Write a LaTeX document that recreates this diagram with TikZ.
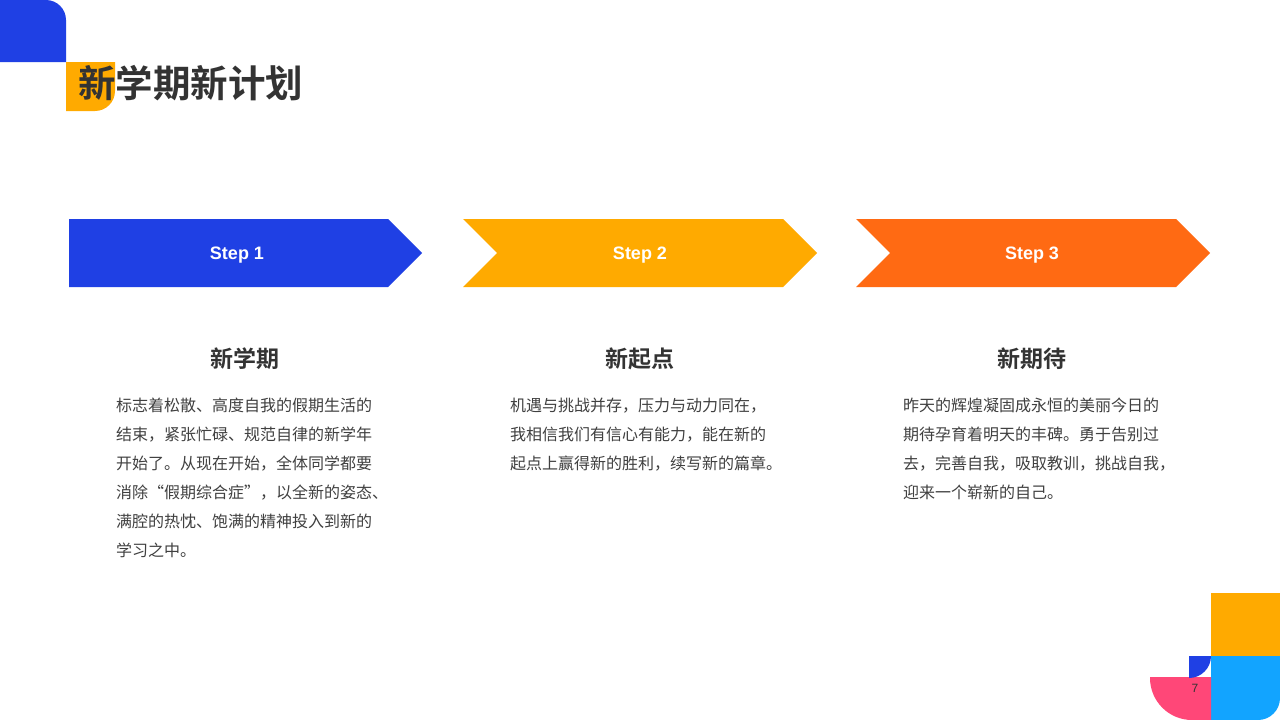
\documentclass[tikz,border=0pt]{standalone}
\usepackage{fontspec}
\setmainfont{Liberation Sans}
\newfontfamily\cjk{Noto Sans CJK SC}
\newfontfamily\cjkb{Noto Sans CJK SC Bold}
\definecolor{cblue}{HTML}{1F40E4}
\definecolor{corange}{HTML}{FFAA00}
\definecolor{cred}{HTML}{FF6A13}
\definecolor{cpink}{HTML}{FF4778}
\definecolor{clblue}{HTML}{12A4FF}
\definecolor{ctitle}{HTML}{333333}
\definecolor{cbody}{HTML}{404040}
\tikzset{
  steplabel/.style={text=white, font=\fontsize{18}{20}\selectfont\bfseries, inner sep=0pt},
  heading/.style={text=ctitle, font=\cjkb\fontsize{23}{26}\selectfont, inner sep=0pt},
  bodytext/.style={text=cbody, font=\cjk\fontsize{16}{29}\selectfont, align=left, inner sep=0pt, anchor=north west},
}
\begin{document}
\begin{tikzpicture}[x=1pt,y=-1pt]
\useasboundingbox (0,0) rectangle (1280,720);
\fill[white] (0,0) rectangle (1280,720);
% top-left decoration
\fill[cblue] (0,0) -- (46,0) arc[start angle=-90,end angle=0,radius=20] -- (66,62) -- (0,62) -- cycle;
\fill[corange] (66,62) -- (115,62) -- (115,91) arc[start angle=0,end angle=90,radius=20] -- (66,111) -- cycle;
\node[anchor=west, inner sep=0pt, text=ctitle, font=\cjkb\fontsize{37.5}{40}\selectfont] (title) at (78,83) {新学期新计划};
% arrows
\fill[cblue] (69,219) -- (388,219) -- (422,253) -- (388,287) -- (69,287) -- cycle;
\fill[corange] (463,219) -- (783,219) -- (817,253) -- (783,287) -- (463,287) -- (497,253) -- cycle;
\fill[cred] (856,219) -- (1176,219) -- (1210,253) -- (1176,287) -- (856,287) -- (890,253) -- cycle;
\node[steplabel] (s1) at (237,255) {Step 1};
\node[steplabel] (s2) at (640,255) {Step 2};
\node[steplabel] (s3) at (1032,255) {Step 3};
% headings
\node[heading] (h1) at (245,359) {新学期};
\node[heading] (h2) at (640,359) {新起点};
\node[heading] (h3) at (1032,359) {新期待};
% bodies
\node[bodytext] (b1) at (116,398) {标志着松散、高度自我的假期生活的\\结束，紧张忙碌、规范自律的新学年\\开始了。从现在开始，全体同学都要\\消除“假期综合症”，以全新的姿态、\\满腔的热忱、饱满的精神投入到新的\\学习之中。};
\node[bodytext] (b2) at (510,398) {机遇与挑战并存，压力与动力同在，\\我相信我们有信心有能力，能在新的\\起点上赢得新的胜利，续写新的篇章。};
\node[bodytext] (b3) at (903,398) {昨天的辉煌凝固成永恒的美丽今日的\\期待孕育着明天的丰碑。勇于告别过\\去，完善自我，吸取教训，挑战自我，\\迎来一个崭新的自己。};
% bottom-right decoration
\fill[corange] (1211,593) rectangle (1280,656);
\fill[clblue] (1211,656) -- (1280,656) -- (1280,698) arc[start angle=0,end angle=90,radius=22] -- (1211,720) -- cycle;
\fill[cpink] (1150,677) -- (1211,677) -- (1211,720) -- (1192,720) arc[start angle=90,end angle=180,radius=42] -- cycle;
\fill[cblue] (1189,656) -- (1211,656) arc[start angle=0,end angle=90,radius=22] -- cycle;
\node[inner sep=0pt, text=ctitle, font=\fontsize{12}{14}\selectfont] (pn) at (1195,688) {7};
\end{tikzpicture}
\end{document}
